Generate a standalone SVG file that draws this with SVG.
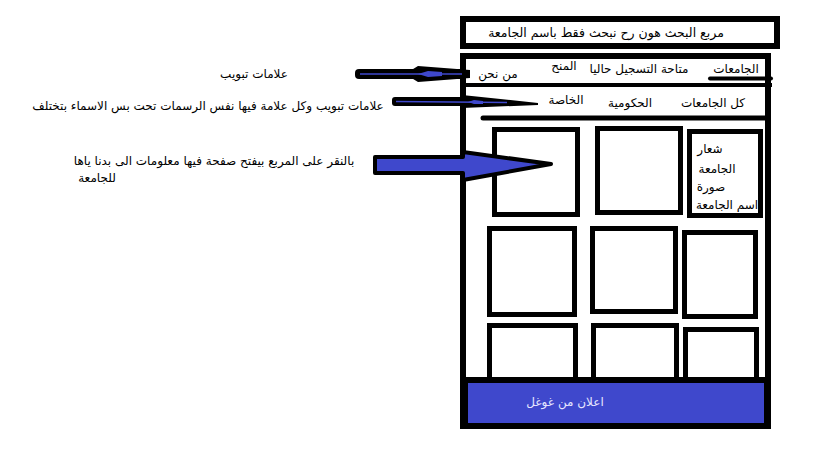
<svg xmlns="http://www.w3.org/2000/svg" width="819" height="460" viewBox="0 0 819 460">
<style>
  text { font-family: "DejaVu Sans", "Noto Sans", sans-serif; font-size: 12px; fill: #000; text-anchor: middle; }
  .box { fill: #fff; stroke: #000; stroke-width: 5; }
  .frame { fill: #fff; stroke: #000; stroke-width: 6; }
  .ad { fill: #e6e6ff; }
</style>
<rect width="819" height="460" fill="#fff"/>

<g id="search">
  <rect class="frame" x="463" y="19" width="314" height="27" stroke-width="5"/>
  <text x="606" y="37" style="font-size:12.5px">مربع البحث هون رح نبحث فقط باسم الجامعة</text>
</g>

<g id="main-frame">
  <rect class="frame" x="463" y="56" width="305" height="370"/>
  <line x1="461" y1="85" x2="772" y2="85" stroke="#000" stroke-width="4"/>
</g>

<g id="tabs">
  <line x1="710" y1="78.5" x2="771" y2="78.5" stroke="#000" stroke-width="4" stroke-linecap="round"/>
  <text x="736" y="73">الجامعات</text>
  <text x="639" y="73">متاحة التسجيل حاليا</text>
  <text x="564" y="70">المنح</text>
  <text x="498" y="78">من نحن</text>
</g>

<g id="subtabs">
  <line x1="483" y1="118" x2="768" y2="118" stroke="#000" stroke-width="5" stroke-linecap="round"/>
  <text x="713" y="107">كل الجامعات</text>
  <text x="630" y="107">الحكومية</text>
  <text x="566" y="104">الخاصة</text>
</g>

<g id="box-1"><rect class="box" x="494.5" y="129.5" width="83" height="85"/></g>
<g id="box-2"><rect class="box" x="597.5" y="128.5" width="83" height="84"/></g>
<g id="box-3">
  <rect class="box" x="689.5" y="131.5" width="71" height="84"/>
  <text x="710" y="153">شعار</text>
  <text x="717" y="173">الجامعة</text>
  <text x="711" y="191">صورة</text>
  <text x="727" y="209">اسم الجامعة</text>
</g>
<g id="box-4"><rect class="box" x="489.5" y="228.5" width="85" height="86"/></g>
<g id="box-5"><rect class="box" x="592.5" y="228.5" width="83" height="83"/></g>
<g id="box-6"><rect class="box" x="684.5" y="232.5" width="71" height="84"/></g>
<g id="box-7"><rect class="box" x="489.5" y="325.5" width="86" height="60"/></g>
<g id="box-8"><rect class="box" x="593.5" y="325.5" width="83" height="60"/></g>
<g id="box-9"><rect class="box" x="685.5" y="329.5" width="71" height="56"/></g>

<g id="ad">
  <rect x="461" y="377" width="310" height="52" fill="#000"/>
  <rect x="468" y="383" width="296" height="40" fill="#3f48cc"/>
  <text class="ad" x="565" y="406">اعلان من غوغل</text>
</g>

<g id="connectors">
  <!-- arrow 1 -->
  <rect x="355" y="69" width="112" height="10" rx="4" fill="#000"/>
  <polygon points="405,74 418,66 470,70 470,78 418,82" fill="#000"/>
  <line x1="360" y1="74" x2="462" y2="74" stroke="#3f48cc" stroke-width="1.5"/>
  <polygon points="418,74 428,71 442,72 442,76 428,77" fill="#3f48cc"/>
  <!-- arrow 2 -->
  <rect x="392" y="97" width="75" height="9" rx="3" fill="#000"/>
  <polygon points="462,95 538,103 538,105 462,108" fill="#000"/>
  <line x1="396" y1="101.5" x2="507" y2="102.5" stroke="#3f48cc" stroke-width="1.5"/>
  <polygon points="468,102 474,100 483,101 483,104 474,104" fill="#3f48cc"/>
  <!-- arrow 3 -->
  <polygon points="375,157 463,157 463,152 551,164 463,180 463,173 375,173" fill="#3f48cc" stroke="#000" stroke-width="4" stroke-linejoin="round"/>
</g>

<g id="labels">
  <text x="254" y="78">علامات تبويب</text>
  <text x="208" y="110">علامات تبويب وكل علامة فيها نفس الرسمات تحت بس الاسماء بتختلف</text>
  <text x="214" y="165">بالنقر على المربع بيفتح صفحة فيها معلومات الى بدنا ياها</text>
  <text x="97" y="182">للجامعة</text>
</g>
</svg>
